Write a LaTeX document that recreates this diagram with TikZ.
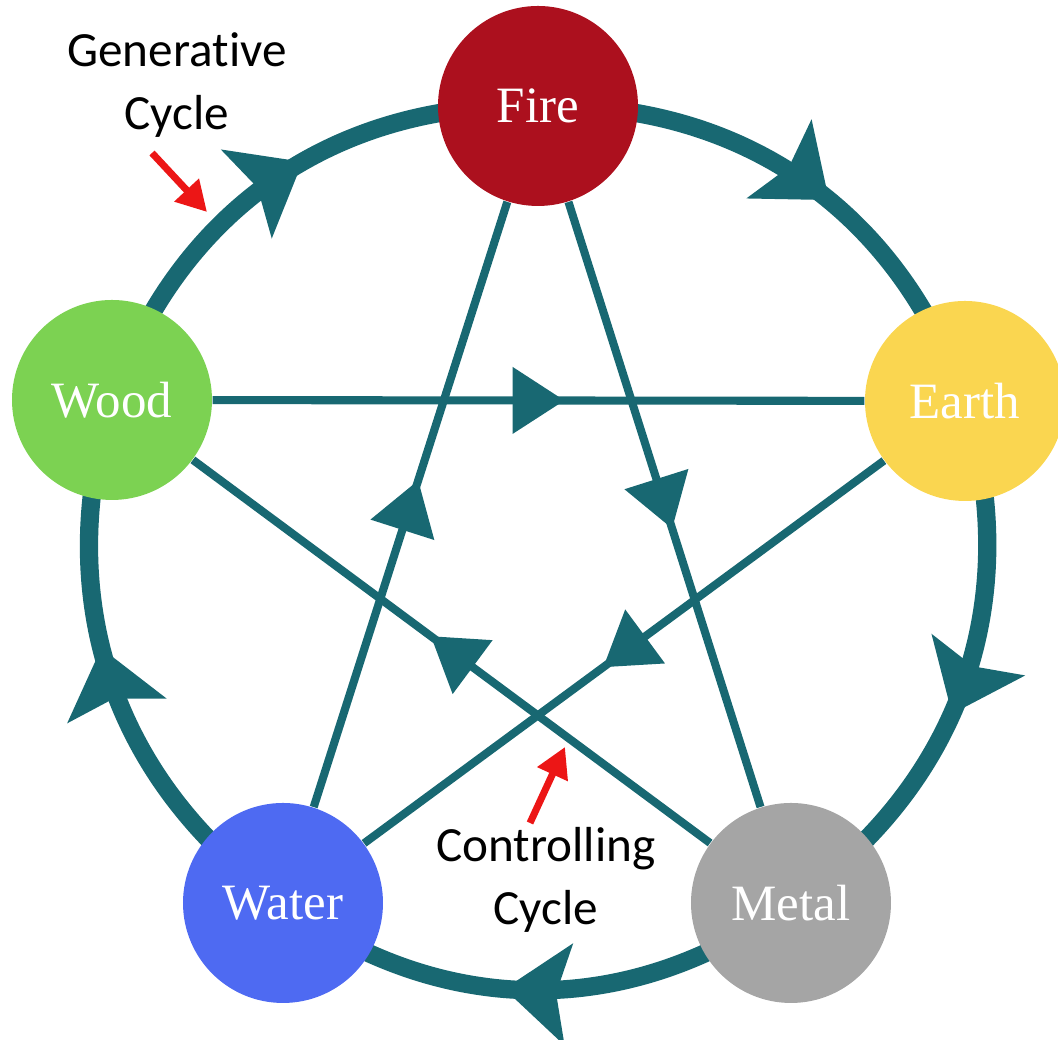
\documentclass[tikz,border=0pt]{standalone}
\usepackage{fontspec}
\setmainfont{Liberation Serif}
\newfontfamily\cyclefont[Ligatures=NoCommon]{Carlito}
\usetikzlibrary{arrows.meta}
\usetikzlibrary{decorations.markings}
\usetikzlibrary{backgrounds}

\definecolor{ringteal}{RGB}{24,104,114}
\definecolor{firered}{RGB}{172,16,30}
\definecolor{earthyellow}{RGB}{250,214,80}
\definecolor{metalgray}{RGB}{165,165,165}
\definecolor{waterblue}{RGB}{78,106,242}
\definecolor{woodgreen}{RGB}{124,210,82}
\definecolor{pointred}{RGB}{236,22,22}

\tikzset{
        element/.style={circle, inner sep=0pt, minimum size=2cm, text=white, font=\fontsize{14.5}{17}\selectfont},
        % Generative cycle (outer ring)
        gen_arc/.style={line width=5.2pt, draw=ringteal, postaction={decorate},
            decoration={markings, mark=at position 0.56 with {\arrow{Stealth[length=0.64cm, width=1.0cm, inset=0.12cm]}}}},
        % Controlling cycle (star)
        ctrl_line/.style={line width=2.3pt, draw=ringteal, postaction={decorate},
            decoration={markings, mark=at position 0.54 with {\arrow{Triangle[length=0.52cm, width=0.65cm]}}}},
        % Red pointers to the two cycles
        pointer/.style={line width=2pt, draw=pointred, -{Triangle[length=0.3cm, width=0.32cm]}},
        cycle_label/.style={align=center, font=\cyclefont\fontsize{14}{18}\selectfont}
}

\begin{document}
\begin{tikzpicture}
            \useasboundingbox (0,0) rectangle (10.58,10.40);

            \node[element, fill=firered] (fire) at (5.38,9.34) {Fire};
            \node[element, fill=earthyellow] (earth) at (9.65,6.39) {Earth};
            \node[element, fill=metalgray] (metal) at (7.91,1.37) {Metal};
            \node[element, fill=waterblue] (water) at (2.83,1.37) {Water};
            \node[element, fill=woodgreen] (wood) at (1.12,6.40) {Wood};

            \begin{scope}[on background layer]
                % ring runs through the element centres, behind the discs
                \draw[gen_arc] (fire.center) to[bend left=36] (earth.center);
                \draw[gen_arc] (earth.center) to[bend left=36] (metal.center);
                \draw[gen_arc] (metal.center) to[bend left=36] (water.center);
                \draw[gen_arc] (water.center) to[bend left=36] (wood.center);
                \draw[gen_arc] (wood.center) to[bend left=36] (fire.center);

                \draw[ctrl_line] (wood) -- (earth);
                \draw[ctrl_line] (earth) -- (water);
                \draw[ctrl_line] (water) -- (fire);
                \draw[ctrl_line] (fire) -- (metal);
                \draw[ctrl_line] (metal) -- (wood);
            \end{scope}

            \node[cycle_label] (gen_label) at (1.77,9.55) {Generative\\Cycle};
            \coordinate (gen_tail) at (1.52,8.87);
            \coordinate (gen_tip) at (2.07,8.28);
            \draw[pointer] (gen_tail) -- (gen_tip);

            \node[cycle_label] (ctrl_label) at (5.46,1.60) {Controlling\\Cycle};
            \coordinate (ctrl_tail) at (5.30,2.17);
            \coordinate (ctrl_tip) at (5.65,2.93);
            \draw[pointer] (ctrl_tail) -- (ctrl_tip);
\end{tikzpicture}
\end{document}
